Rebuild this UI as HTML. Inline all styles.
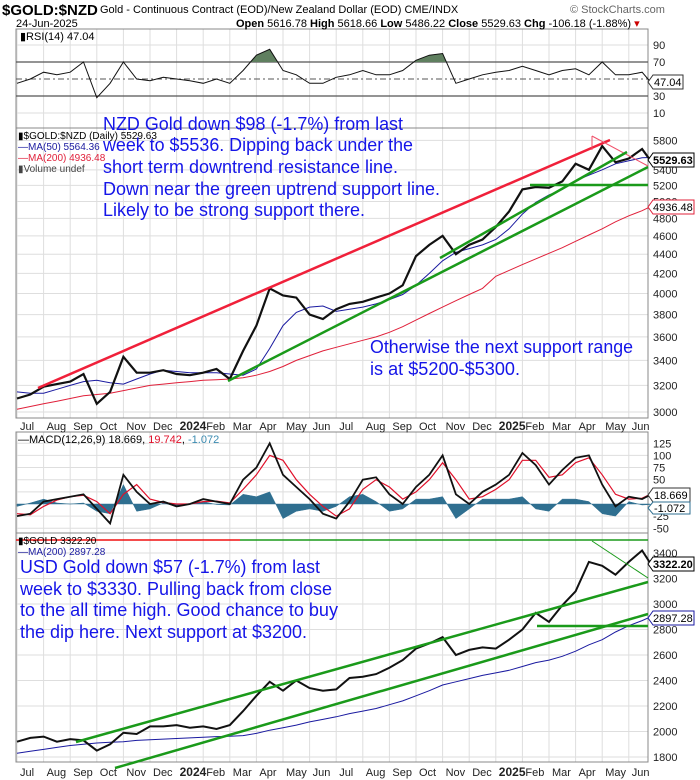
<!DOCTYPE html>
<html><head><meta charset="utf-8">
<style>
html,body{margin:0;padding:0;background:#fff;}
svg{display:block;font-family:"Liberation Sans",Arial,sans-serif;}
</style></head>
<body>
<svg id="chart" width="700" height="780" viewBox="0 0 700 780" xmlns="http://www.w3.org/2000/svg">
<g id="grid"></g>
<g id="marks"></g>
<g id="anno"></g>
<g id="labels"></g>
</svg>
<script>
// ---- data (half-month samples from Jul 1 2023 to Jun 24 2025) ----
const times = [0,0.5,1,1.5,2,2.5,3,3.5,4,4.5,5,5.5,6,6.5,7,7.5,8,8.5,9,9.5,10,10.5,11,11.5,12,12.5,13,13.5,14,14.5,15,15.5,16,16.5,17,17.5,18,18.5,19,19.5,20,20.5,21,21.5,22,22.5,23,23.5,23.8];
const nzdClose = [3100,3130,3190,3210,3230,3290,3060,3150,3430,3300,3300,3320,3290,3280,3300,3330,3250,3480,3700,4050,3980,3960,3800,3760,3850,3900,3920,3960,4000,4080,4380,4500,4600,4400,4500,4560,4700,4880,5150,5180,5170,5250,5480,5400,5720,5500,5550,5680,5530];
const nzdMa50 = [3150,3140,3140,3170,3200,3230,3240,3220,3210,3250,3290,3320,3310,3300,3300,3300,3290,3280,3330,3500,3700,3820,3870,3880,3830,3850,3870,3900,3940,3990,4080,4200,4330,4420,4460,4500,4560,4680,4850,4990,5080,5150,5260,5330,5400,5480,5520,5560,5564];
const nzdMa200 = [3020,3040,3060,3080,3100,3120,3130,3140,3160,3180,3200,3210,3220,3230,3240,3245,3250,3260,3280,3310,3350,3400,3440,3480,3510,3540,3570,3600,3640,3690,3750,3810,3870,3930,3990,4050,4170,4230,4290,4350,4410,4470,4540,4610,4680,4760,4830,4890,4936];
const rsiVals = [45,50,58,55,58,70,28,45,70,50,48,52,50,48,45,50,45,60,78,85,60,55,45,45,52,55,60,55,55,60,72,78,80,45,50,55,58,60,65,60,55,60,62,55,70,55,55,58,47];
const macdVals = [-25,-20,5,10,15,20,-10,-40,60,25,0,5,-5,0,10,5,0,50,75,125,60,35,10,-20,-30,5,50,55,20,0,35,60,100,20,0,25,40,60,105,80,40,70,95,100,40,-5,15,10,18.7];
const signalVals = [-20,-22,-5,8,15,18,5,-20,20,40,10,3,0,0,5,6,2,30,60,100,90,50,20,-5,-25,-10,30,50,35,10,25,50,85,50,10,15,30,50,90,90,55,60,85,95,60,20,10,12,19.7];
const histVals = [-5,2,10,2,0,2,-15,-20,40,-15,-10,2,-5,0,5,-1,-2,20,15,25,-30,-15,-10,-15,-5,15,20,5,-15,-10,10,10,15,-30,-10,10,10,10,15,-10,-15,10,10,5,-20,-25,5,-2,-1];
const usdClose = [1920,1950,1960,1920,1940,1930,1850,1900,1990,1980,2040,2040,2050,2030,2040,2020,2050,2160,2280,2390,2320,2400,2340,2320,2330,2420,2430,2450,2500,2560,2650,2690,2740,2600,2640,2660,2650,2720,2800,2930,2860,2990,3100,3330,3300,3230,3330,3420,3322];
const usdMa200 = [1830,1845,1860,1875,1890,1900,1910,1915,1920,1930,1935,1940,1945,1950,1955,1960,1962,1968,1985,2010,2030,2050,2075,2095,2115,2140,2160,2180,2210,2240,2280,2320,2365,2390,2415,2440,2460,2480,2510,2540,2560,2590,2630,2680,2720,2780,2830,2870,2897];
const monthLabels = ["Jul","Aug","Sep","Oct","Nov","Dec","2024","Feb","Mar","Apr","May","Jun","Jul","Aug","Sep","Oct","Nov","Dec","2025","Feb","Mar","Apr","May","Jun"];
const rsiTicks = [90,70,30,10];
const nzdTicks = [5800,5400,5200,5000,4800,4600,4400,4200,4000,3800,3600,3400,3200,3000];
const macdTicks = [125,100,75,50,25,-25,-50];
const usdTicks = [3400,3200,3000,2800,2600,2400,2200,2000,1800];

// ---- axes ----
const L=16, R=648;
const x = t => 17 + t*26.6;
const yRsi = v => 62 - (v-70)*0.85;
const yNzd = v => 412 - 412*Math.log(v/3000);
const yMacd = v => 504 - v*0.486;
const yUsd = v => 757 - (v-1800)*0.1275;

const NS="http://www.w3.org/2000/svg";
function mk(parent, tag, attrs, txt){const e=document.createElementNS(NS,tag);for(const k in attrs)e.setAttribute(k,attrs[k]);if(txt!==undefined)e.textContent=txt;parent.appendChild(e);return e;}
const G=document.getElementById('grid'),M=document.getElementById('marks'),A=document.getElementById('anno'),LB=document.getElementById('labels');

const panels=[[29,128],[128,418],[432,533],[533,762]];
for(let i=0;i<monthLabels.length;i++){
  panels.forEach(p=>{mk(G,'line',{x1:x(i),x2:x(i),y1:p[0],y2:p[1],stroke:'#dedede','stroke-width':1});});
  const bold = monthLabels[i].length===4;
  const t1=mk(LB,'text',{x:x(i)+3,y:430,'font-size':bold?12:11,'font-weight':bold?'bold':'normal',fill:'#222'},monthLabels[i]);
  
  
  const t2=mk(LB,'text',{x:x(i)+3,y:776,'font-size':bold?12:11,'font-weight':bold?'bold':'normal',fill:'#222'},monthLabels[i]);
  
  
}
function hTicks(ticks, yf, top, bot){
  ticks.forEach(v=>{const yy=yf(v); if(yy<top||yy>bot) return;
    mk(G,'line',{x1:L,x2:R,y1:yy,y2:yy,stroke:'#dedede'});
    const t=mk(LB,'text',{x:653,y:yy+4,'font-size':11,fill:'#222'},String(v));
    
    
  });
}
hTicks(rsiTicks,yRsi,29,128);
hTicks(nzdTicks,yNzd,128,418);
hTicks(macdTicks,yMacd,432,533);
hTicks(usdTicks,yUsd,533,762);
panels.forEach(p=>{mk(G,'rect',{x:L,y:p[0],width:R-L,height:p[1]-p[0],fill:'none',stroke:'#888'});});
[70,30].forEach(v=>mk(G,'line',{x1:L,x2:R,y1:yRsi(v),y2:yRsi(v),stroke:'#555','stroke-width':1.2}));
mk(G,'line',{x1:L,x2:R,y1:yRsi(50),y2:yRsi(50),stroke:'#555','stroke-dasharray':'6,3,2,3'});

function path(vals,yf){return vals.map((v,i)=>(i?'L':'M')+x(times[i]).toFixed(1)+','+yf(v).toFixed(1)).join('');}

const clipA=mk(M,'clipPath',{id:'ca'});mk(clipA,'rect',{x:L,y:29,width:R-L,height:yRsi(70)-29});
const clipB=mk(M,'clipPath',{id:'cb'});mk(clipB,'rect',{x:L,y:yRsi(30),width:R-L,height:128-yRsi(30)});
const rp=path(rsiVals,yRsi);
const fa=mk(M,'path',{d:rp+'L'+x(times[times.length-1])+','+yRsi(70)+'L'+x(0)+','+yRsi(70)+'Z',fill:'#5f7f5f','clip-path':'url(#ca)'});


const fb=mk(M,'path',{d:rp+'L'+x(times[times.length-1])+','+yRsi(30)+'L'+x(0)+','+yRsi(30)+'Z',fill:'#8a4a4a','clip-path':'url(#cb)'});


const rl=mk(M,'path',{d:rp,fill:'none',stroke:'#111','stroke-width':1});



const n2=mk(M,'path',{d:path(nzdMa200,yNzd),fill:'none',stroke:'#e0203a','stroke-width':1});


const n5=mk(M,'path',{d:path(nzdMa50,yNzd),fill:'none',stroke:'#1a1aa0','stroke-width':1});


const nc=mk(M,'path',{d:path(nzdClose,yNzd),fill:'none',stroke:'#111','stroke-width':2.2});



// MACD histogram as area
const hd=path(histVals,yMacd)+'L'+x(times[times.length-1]).toFixed(1)+','+yMacd(0)+'L'+x(0)+','+yMacd(0)+'Z';
const ha=mk(M,'path',{d:hd,fill:'#2f6f90',stroke:'#2f6f90','stroke-width':0.5});


const sg=mk(M,'path',{d:path(signalVals,yMacd),fill:'none',stroke:'#e0102a','stroke-width':1.2});


const mc=mk(M,'path',{d:path(macdVals,yMacd),fill:'none',stroke:'#111','stroke-width':1.8});



const um=mk(M,'path',{d:path(usdMa200,yUsd),fill:'none',stroke:'#1a1aa0','stroke-width':1});


const uc=mk(M,'path',{d:path(usdClose,yUsd),fill:'none',stroke:'#111','stroke-width':2});



function tl(name,x1,y1,x2,y2,col,w){const l=mk(A,'line',{x1,y1,x2,y2,stroke:col,'stroke-width':w});
  
  }
tl('nzd-resistance-line',38,388,610,140,'#f0203a',2.5);
tl('nzd-downtrend-line',592,136,648,166,'#f0506a',1);
tl('nzd-downtrend-tick',592,136,592,150,'#f0506a',1);
tl('nzd-uptrend-support',228,381,648,167,'#1a9a1a',2.5);
tl('nzd-uptrend-support-steep',440,258,627,152,'#1a9a1a',2.5);
tl('nzd-horizontal-support',530,185,648,185,'#1a9a1a',2.5);
tl('usd-top-line-red',16,540,240,540,'#f01010',1.5);
tl('usd-top-line-green',240,540,648,540,'#1a9a1a',1.5);
tl('usd-channel-upper',76,742,648,582,'#1a9a1a',2.5);
tl('usd-channel-lower',115,768,648,614,'#1a9a1a',2.5);
tl('usd-horizontal-support',537,626,648,626,'#1a9a1a',2.5);
tl('usd-downtrend-line',592,541,648,578,'#1a9a1a',1);
</script>
<svg width="700" height="780" style="position:absolute;left:0;top:0" xmlns="http://www.w3.org/2000/svg" font-family="Liberation Sans, Arial, sans-serif">
<text x="2" y="15" font-size="15" font-weight="bold" fill="#000">$GOLD:$NZD</text>
<text x="100" y="13" font-size="11" fill="#000">Gold - Continuous Contract (EOD)/New Zealand Dollar (EOD) CME/INDX</text>
<text x="570" y="13" font-size="11" fill="#666">© StockCharts.com</text>
<text x="16" y="27" font-size="11" fill="#000">24-Jun-2025</text>
<text x="236" y="27" font-size="11" fill="#000"><tspan font-weight="bold">Open</tspan> 5616.78 <tspan font-weight="bold">High</tspan> 5618.66 <tspan font-weight="bold">Low</tspan> 5486.22 <tspan font-weight="bold">Close</tspan> 5529.63 <tspan font-weight="bold">Chg</tspan> -106.18 (-1.88%) <tspan fill="#c00">▾</tspan></text>
<text x="20" y="40" font-size="11" fill="#000">▮RSI(14) 47.04</text>
<text x="18" y="139" font-size="10" fill="#000">▮$GOLD:$NZD (Daily) 5529.63</text>
<text x="18" y="150" font-size="10" fill="#1a1aa0">—MA(50) 5564.36</text>
<text x="18" y="161" font-size="10" fill="#e0203a">—MA(200) 4936.48</text>
<text x="18" y="172" font-size="10" fill="#444">▮Volume undef</text>
<text x="18" y="443" font-size="11" fill="#000">—MACD(12,26,9) 18.669, <tspan fill="#e0102a">19.742</tspan>, <tspan fill="#3a8ab0">-1.072</tspan></text>
<text x="18" y="544" font-size="10" fill="#000">▮$GOLD 3322.20</text>
<text x="18" y="555" font-size="10" fill="#1a1aa0">—MA(200) 2897.28</text>
<g fill="#1515e8" font-size="18">
<text x="103" y="130" textLength="300" lengthAdjust="spacingAndGlyphs">NZD Gold down $98 (-1.7%) from last</text>
<text x="103" y="151" textLength="310" lengthAdjust="spacingAndGlyphs">week to $5536. Dipping back under the</text>
<text x="103" y="173" textLength="295" lengthAdjust="spacingAndGlyphs">short term downtrend resistance line.</text>
<text x="103" y="195" textLength="337" lengthAdjust="spacingAndGlyphs">Down near the green uptrend support line.</text>
<text x="103" y="216" textLength="262" lengthAdjust="spacingAndGlyphs">Likely to be strong support there.</text>
<text x="370" y="353" textLength="263" lengthAdjust="spacingAndGlyphs">Otherwise the next support range</text>
<text x="370" y="375" textLength="150" lengthAdjust="spacingAndGlyphs">is at $5200-$5300.</text>
<text x="20" y="573" textLength="300" lengthAdjust="spacingAndGlyphs">USD Gold down $57 (-1.7%) from last</text>
<text x="20" y="595" textLength="312" lengthAdjust="spacingAndGlyphs">week to $3330. Pulling back from close</text>
<text x="20" y="616" textLength="318" lengthAdjust="spacingAndGlyphs">to the all time high. Good chance to buy</text>
<text x="20" y="638" textLength="287" lengthAdjust="spacingAndGlyphs">the dip here. Next support at $3200.</text>
</g>
<g font-size="11" font-weight="bold">
<g><polygon points="648,82 653,75 683,75 683,89 653,89" fill="#fff" stroke="#333"/><text x="654" y="86" font-weight="normal">47.04</text></g>
<g><polygon points="648,160 653,153 694,153 694,167 653,167" fill="#fff" stroke="#000"/><text x="653" y="164">5529.63</text></g>
<g><polygon points="648,207 653,200 694,200 694,214 653,214" fill="#fff" stroke="#e0203a"/><text x="653" y="211" font-weight="normal">4936.48</text></g>
<g><polygon points="648,495 653,488 690,488 690,502 653,502" fill="#fff" stroke="#333"/><text x="654" y="499" font-weight="normal">18.669</text></g>
<g><polygon points="648,508 653,502 690,502 690,514 653,514" fill="#fff" stroke="#2f6f90"/><text x="654" y="512" font-weight="normal">-1.072</text></g>
<g><polygon points="648,564 653,557 694,557 694,571 653,571" fill="#fff" stroke="#000"/><text x="653" y="568">3322.20</text></g>
<g><polygon points="648,618 653,611 694,611 694,625 653,625" fill="#fff" stroke="#1a1aa0"/><text x="653" y="622" font-weight="normal">2897.28</text></g>
</g>
</svg>
</body></html>
